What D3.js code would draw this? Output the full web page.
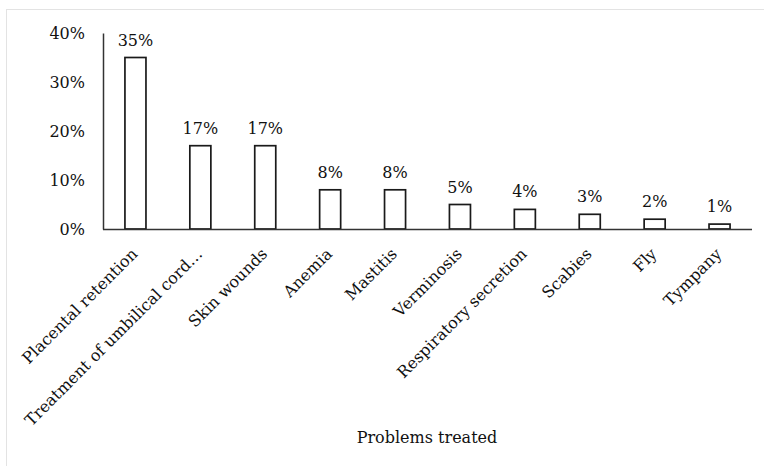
<!DOCTYPE html>
<html>
<head>
<meta charset="utf-8">
<script src="https://cdn.jsdelivr.net/npm/d3@7"></script>
<style>
  html, body { margin: 0; padding: 0; background: #fff; }
  svg { display: block; }
  text { font-family: "DejaVu Serif", "Liberation Serif", serif; fill: #111; }
</style>
</head>
<body>
<svg id="chart" width="764" height="466"></svg>
<script>
// Share of cases by problem treated
const categories = [
  "Placental retention",
  "Treatment of umbilical cord…",
  "Skin wounds",
  "Anemia",
  "Mastitis",
  "Verminosis",
  "Respiratory secretion",
  "Scabies",
  "Fly",
  "Tympany"
];
const values = [35, 17, 17, 8, 8, 5, 4, 3, 2, 1];
const yTicks = [0, 10, 20, 30, 40];
const xTitle = "Problems treated";

const svg = d3.select("#chart");
const W = 764, H = 466;
const margin = { left: 103, right: 12, top: 33, bottom: 237 };

// outer chart frame
svg.append("rect")
  .attr("x", 6.5).attr("y", 9.5)
  .attr("width", W).attr("height", H)
  .attr("fill", "none").attr("stroke", "#e3e3e3").attr("stroke-width", 1);

const x = d3.scaleBand()
  .domain(categories)
  .range([margin.left, W - margin.right])
  .paddingInner(0.676).paddingOuter(0.338);

const y = d3.scaleLinear()
  .domain([0, 40])
  .range([H - margin.bottom, margin.top]);

// bars
svg.append("g").selectAll("rect")
  .data(values)
  .join("rect")
  .attr("x", (d, i) => x(categories[i]))
  .attr("y", d => y(d))
  .attr("width", x.bandwidth())
  .attr("height", d => y(0) - y(d))
  .attr("fill", "#fff")
  .attr("stroke", "#1a1a1a")
  .attr("stroke-width", 1.7);

// value labels
svg.append("g").selectAll("text")
  .data(values)
  .join("text")
  .attr("x", (d, i) => x(categories[i]) + x.bandwidth() / 2)
  .attr("y", d => y(d) - 12)
  .attr("text-anchor", "middle")
  .attr("font-size", 16)
  .text(d => d + "%");

// y axis
const yAxis = d3.axisLeft(y)
  .tickValues(yTicks)
  .tickSize(0)
  .tickPadding(18)
  .tickFormat(d => d + "%");
const gy = svg.append("g")
  .attr("transform", `translate(${margin.left},0)`)
  .call(yAxis);
gy.select(".domain").attr("stroke", "#333").attr("stroke-width", 1.5);
gy.selectAll(".tick text")
  .attr("font-size", 16)
  .attr("font-family", "DejaVu Serif, serif")
  .attr("fill", "#111");

// x axis
const xAxis = d3.axisBottom(x).tickSize(0).tickPadding(0);
const gx = svg.append("g")
  .attr("transform", `translate(0,${y(0)})`)
  .call(xAxis);
gx.select(".domain")
  .attr("d", `M${margin.left},0.5H${W - margin.right}`)
  .attr("stroke", "#333").attr("stroke-width", 1.5);
gx.selectAll(".tick text")
  .attr("font-size", 16)
  .attr("font-family", "DejaVu Serif, serif")
  .attr("fill", "#111")
  .attr("text-anchor", "end")
  .attr("dy", null)
  .attr("y", 0)
  .attr("transform", "translate(3,26) rotate(-45)");

// axis title
svg.append("text")
  .attr("x", 427)
  .attr("y", 443)
  .attr("text-anchor", "middle")
  .attr("font-size", 16)
  .text(xTitle);
</script>
</body>
</html>
